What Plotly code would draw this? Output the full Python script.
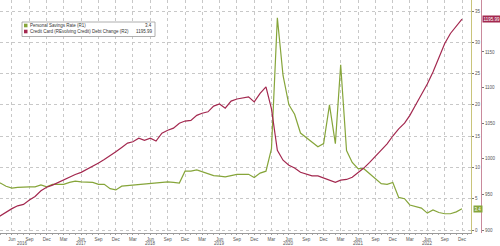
import plotly.graph_objects as go
import pandas as pd

# ---------------- data ----------------
months = pd.date_range("2016-03-01", "2022-12-01", freq="MS")

savings_rate = [
    7.6,                                            # Mar 2016
    7.5, 7.0, 6.7, 6.8, 6.9, 6.9, 6.9, 7.2, 6.9,    # Apr-Dec 2016
    7.3, 7.3, 7.3, 7.6, 7.8, 7.7, 7.6, 7.6, 7.3, 7.3, 6.6, 6.4,   # 2017
    7.0, 7.1, 7.2, 7.3, 7.3, 7.4, 7.5, 7.6, 7.7, 7.6, 7.5, 9.4,   # 2018
    9.4, 9.6, 9.3, 9.0, 8.7, 8.6, 8.5, 8.7, 8.9, 8.9, 8.9, 8.4,   # 2019
    9.1, 9.4, 13.0, 33.9, 24.7, 20.0, 18.5, 15.5, 14.8, 14.0, 13.3, 13.8,  # 2020
    20.0, 13.8, 26.4, 12.7, 10.8, 9.8, 9.8, 9.0, 8.2, 7.4, 7.3, 7.6,      # 2021
    5.2, 5.0, 4.0, 3.8, 3.5, 2.7, 3.2, 2.8, 2.6, 2.6, 2.9, 3.4,           # 2022
]

revolving_credit = [
    915,                                                         # Mar 2016
    920, 926, 930, 934, 936, 942, 947, 955, 960,                 # Apr-Dec 2016
    963, 967, 970, 974, 978, 981, 985, 990, 994, 999, 1004, 1010,  # 2017
    1016, 1022, 1024, 1029, 1026, 1029, 1025, 1036, 1040, 1043, 1050, 1053,  # 2018
    1054, 1061, 1064, 1066, 1074, 1077, 1071, 1081, 1084, 1085, 1087, 1080,  # 2019
    1092, 1101, 1070, 1012, 998, 991, 987, 981, 979, 976, 976, 973,          # 2020
    970, 967, 970, 971, 974, 980, 987, 995, 1004, 1012, 1021, 1032,          # 2021
    1042, 1050, 1061, 1076, 1090, 1105, 1122, 1142, 1162, 1176, 1187, 1195.99,  # 2022
]

x_tick_dates = pd.date_range("2016-06-01", "2022-12-01", freq="3MS")
x_tick_text = [d.strftime("%b") for d in x_tick_dates]
year_labels = ["2016", "2017", "2018", "2019", "2020", "2021", "2022"]
year_label_dates = ["2016-07-25"] + [f"{y}-06-01" for y in range(2017, 2023)]

r1_ticks = [0, 5, 10, 15, 20, 25, 30, 35]
r2_ticks = [900, 950, 1000, 1050, 1100, 1150]

legend_names = ["Personal Savings Rate (R1)", "Credit Card (REvolving Credit) Debt Change (R2)"]
legend_values = ["3.4", "1195.99"]

# ---------------- style ----------------
GREEN = "#86a53a"
RED = "#a3284f"
GRID = "#c8c8c8"
TXT = "#555555"
FONT = "Liberation Sans"

W, H = 500, 246
ML, MR, MT, MB = 0, 19, 0, 13
PW = W - ML - MR          # paper width in px
PH = H - MT - MB          # paper height in px
R1_X = 471                # px position of R1 axis

def px(xpx):
    return (xpx - ML) / PW

def py(ypx):
    return 1 - (ypx - MT) / PH

fig = go.Figure()
fig.add_trace(go.Scatter(x=months, y=savings_rate, mode="lines",
                         line=dict(color=GREEN, width=1.2), yaxis="y",
                         name=legend_names[0], showlegend=False))
fig.add_trace(go.Scatter(x=months, y=revolving_credit, mode="lines",
                         line=dict(color=RED, width=1.2), yaxis="y2",
                         name=legend_names[1], showlegend=False))

fig.update_layout(
    width=W, height=H,
    margin=dict(l=ML, r=MR, t=MT, b=MB),
    paper_bgcolor="white", plot_bgcolor="white",
    font=dict(family=FONT, size=4.5, color=TXT),
    xaxis=dict(
        domain=[0, px(R1_X)],
        type="date",
        range=["2016-03-30", "2023-01-17 12:00"],
        tickvals=list(x_tick_dates), ticktext=x_tick_text,
        tickfont=dict(size=4.5, color=TXT),
        showgrid=True, gridcolor=GRID, griddash="dot", gridwidth=0.8,
        showline=True, linecolor="#999999", linewidth=0.8,
        ticks="outside", ticklen=1.5, tickcolor="#999999",
        minor=dict(ticks="outside", ticklen=1, dtick="M1", tick0="2016-01-01",
                   tickcolor="#aaaaaa", showgrid=False),
        zeroline=False,
    ),
    yaxis=dict(
        side="right", anchor="x",
        range=[-0.48, 36.76],
        tickvals=r1_ticks,
        tickfont=dict(size=4.5, color=TXT),
        showgrid=True, gridcolor=GRID, griddash="dot", gridwidth=0.8,
        showline=True, linecolor="#c9c47a", linewidth=1,
        ticks="outside", ticklen=2, tickcolor="#777777",
        zeroline=False,
    ),
    yaxis2=dict(
        side="right", overlaying="y", anchor="free", position=1.0,
        range=[895.8, 1223.0],
        tickvals=r2_ticks,
        tickfont=dict(size=4.5, color=TXT),
        showgrid=False,
        showline=True, linecolor="#c98a9c", linewidth=1,
        ticks="outside", ticklen=2, tickcolor="#777777",
        zeroline=False,
    ),
)

# year labels
for lab, d in zip(year_labels, year_label_dates):
    fig.add_annotation(x=d, y=py(246.5), xref="x", yref="paper", text=lab,
                       showarrow=False, font=dict(size=4.5, color=TXT),
                       xanchor="center", yanchor="bottom", borderpad=0)

# last-value tags
fig.add_annotation(x=px(473), y=savings_rate[-1], xref="paper", yref="y",
                   text=legend_values[0], showarrow=False, xanchor="left",
                   bgcolor=GREEN, font=dict(size=4.5, color="white"),
                   borderpad=0.5)
fig.add_annotation(x=px(482), y=revolving_credit[-1], xref="paper", yref="y2",
                   text=legend_values[1], showarrow=False, xanchor="left",
                   bgcolor=RED, font=dict(size=4.5, color="white"),
                   borderpad=0.5)

# manual legend box
fig.add_shape(type="rect", xref="paper", yref="paper",
              x0=px(22), x1=px(155), y0=py(22), y1=py(36.5),
              line=dict(color="#9a9a9a", width=0.8), fillcolor="white", layer="above")
rows_y = [25.5, 31.5]
colors = [GREEN, RED]
for i in range(2):
    fig.add_shape(type="rect", xref="paper", yref="paper",
                  x0=px(24), x1=px(27.5), y0=py(rows_y[i] - 1.8), y1=py(rows_y[i] + 1.8),
                  line=dict(width=0), fillcolor=colors[i], layer="above")
    fig.add_annotation(x=px(29), y=py(rows_y[i]), xref="paper", yref="paper",
                       text=legend_names[i], showarrow=False, xanchor="left",
                       yanchor="middle", font=dict(size=4.5, color="#333333"),
                       borderpad=0)
    fig.add_annotation(x=px(153), y=py(rows_y[i]), xref="paper", yref="paper",
                       text=legend_values[i], showarrow=False, xanchor="right",
                       yanchor="middle", font=dict(size=4.5, color="#333333"),
                       borderpad=0)

fig.write_html("out.html")
